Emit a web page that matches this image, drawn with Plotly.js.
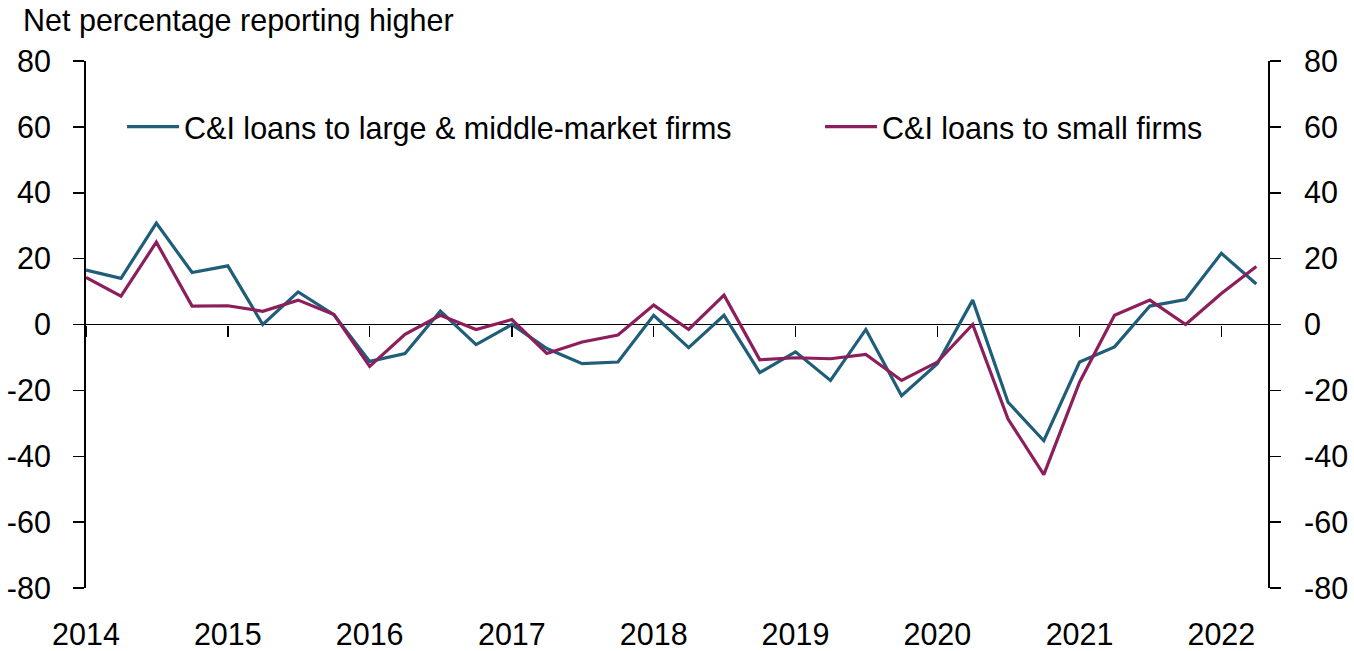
<!DOCTYPE html>
<html>
<head>
<meta charset="utf-8">
<script src="https://cdn.plot.ly/plotly-3.0.1.min.js"></script>
<style>html,body{margin:0;padding:0;background:#fff;}#chart{width:1354px;height:651px;}</style>
</head>
<body>
<div id="chart"></div>
<script>
// Quarterly survey dates (2014 Q1 .. 2022 Q2)
const quarters = [
  "2014-01-01","2014-04-01","2014-07-01","2014-10-01",
  "2015-01-01","2015-04-01","2015-07-01","2015-10-01",
  "2016-01-01","2016-04-01","2016-07-01","2016-10-01",
  "2017-01-01","2017-04-01","2017-07-01","2017-10-01",
  "2018-01-01","2018-04-01","2018-07-01","2018-10-01",
  "2019-01-01","2019-04-01","2019-07-01","2019-10-01",
  "2020-01-01","2020-04-01","2020-07-01","2020-10-01",
  "2021-01-01","2021-04-01","2021-07-01","2021-10-01",
  "2022-01-01","2022-04-01"
];
const largeFirms = [16.5, 14.0, 30.8, 15.8, 17.8, 0, 9.9, 3.0,
  -11.2, -8.8, 4.1, -6.1, 0, -7.3, -11.9, -11.4,
  2.8, -7.0, 2.8, -14.6, -8.3, -17.0, -1.5, -21.6,
  -11.9, 7.4, -23.6, -35.3, -11.4, -6.8, 5.6, 7.6,
  21.6, 12.3];
const smallFirms = [14.3, 8.6, 25.0, 5.6, 5.7, 4.0, 7.4, 3.0,
  -12.7, -3.0, 2.8, -1.5, 1.5, -8.8, -5.3, -3.2,
  5.9, -1.5, 8.9, -10.7, -10.1, -10.4, -9.1, -17.0,
  -11.4, 0, -28.7, -45.6, -17.5, 2.8, 7.4, 0,
  9.4, 17.6];
const seriesNames = ["C&I loans to large & middle-market firms", "C&I loans to small firms"];
const yTicks = [-80, -60, -40, -20, 0, 20, 40, 60, 80];
const yTitle = "Net percentage reporting higher";

const FONT = "Liberation Sans, Arial, sans-serif";
const FS = 30.5;
const xRange = ["2014-01-01", "2022-05-01"];

const traces = [
  {x: quarters, y: largeFirms, name: seriesNames[0], type: "scatter", mode: "lines",
   line: {color: "#1f5e79", width: 3.2}, xaxis: "x", yaxis: "y", legend: "legend"},
  {x: quarters, y: smallFirms, name: seriesNames[1], type: "scatter", mode: "lines",
   line: {color: "#8c1f5b", width: 3.2}, xaxis: "x2", yaxis: "y2", legend: "legend2"}
];

const yCommon = {
  range: [-80, 80], tickvals: yTicks,
  showgrid: false, showline: true, linecolor: "#000", linewidth: 2,
  ticks: "outside", ticklen: 11, tickwidth: 1.5, tickcolor: "#000",
  tickfont: {family: FONT, size: FS, color: "#000"}
};

const legendCommon = {
  orientation: "h", y: 0.875, xanchor: "left", yanchor: "middle",
  font: {family: FONT, size: FS, color: "#000"}, bgcolor: "rgba(0,0,0,0)",
  itemwidth: 52
};

const layout = {
  width: 1354, height: 651,
  margin: {l: 86, r: 86, t: 61, b: 63, pad: 0},
  paper_bgcolor: "#fff", plot_bgcolor: "#fff",
  font: {family: FONT, size: FS, color: "#000"},
  title: {text: yTitle, x: 23/1354, xref: "container", xanchor: "left",
          y: 1 - 20/651, yref: "container", yanchor: "middle",
          font: {family: FONT, size: FS, color: "#000"}},
  showlegend: true,
  legend: Object.assign({}, legendCommon, {x: 0.0305}),
  legend2: Object.assign({}, legendCommon, {x: 0.621}),
  xaxis: {type: "date", range: xRange, tick0: "2014-01-01", dtick: "M12", tickformat: "%Y",
          showgrid: false, showline: false, zeroline: false, ticks: "",
          tickfont: {family: FONT, size: FS, color: "#000"}, ticklabelstandoff: 25},
  xaxis2: {type: "date", range: xRange, tick0: "2014-01-01", dtick: "M12",
           overlaying: "x", anchor: "free", position: 0.5, side: "bottom",
           showgrid: false, showline: false, zeroline: false, showticklabels: false,
           ticks: "outside", ticklen: 11, tickwidth: 1.5, tickcolor: "#000"},
  yaxis: Object.assign({}, yCommon, {side: "left", ticktext: yTicks.map(String),
          ticklabelstandoff: 16, zeroline: true, zerolinecolor: "#000", zerolinewidth: 1.7}),
  yaxis2: Object.assign({}, yCommon, {side: "right", overlaying: "y", anchor: "x", zeroline: false,
          ticktext: yTicks.map(v => "\u00a0\u00a0" + v)})
};

Plotly.newPlot("chart", traces, layout, {displayModeBar: false, staticPlot: true});
</script>
</body>
</html>
